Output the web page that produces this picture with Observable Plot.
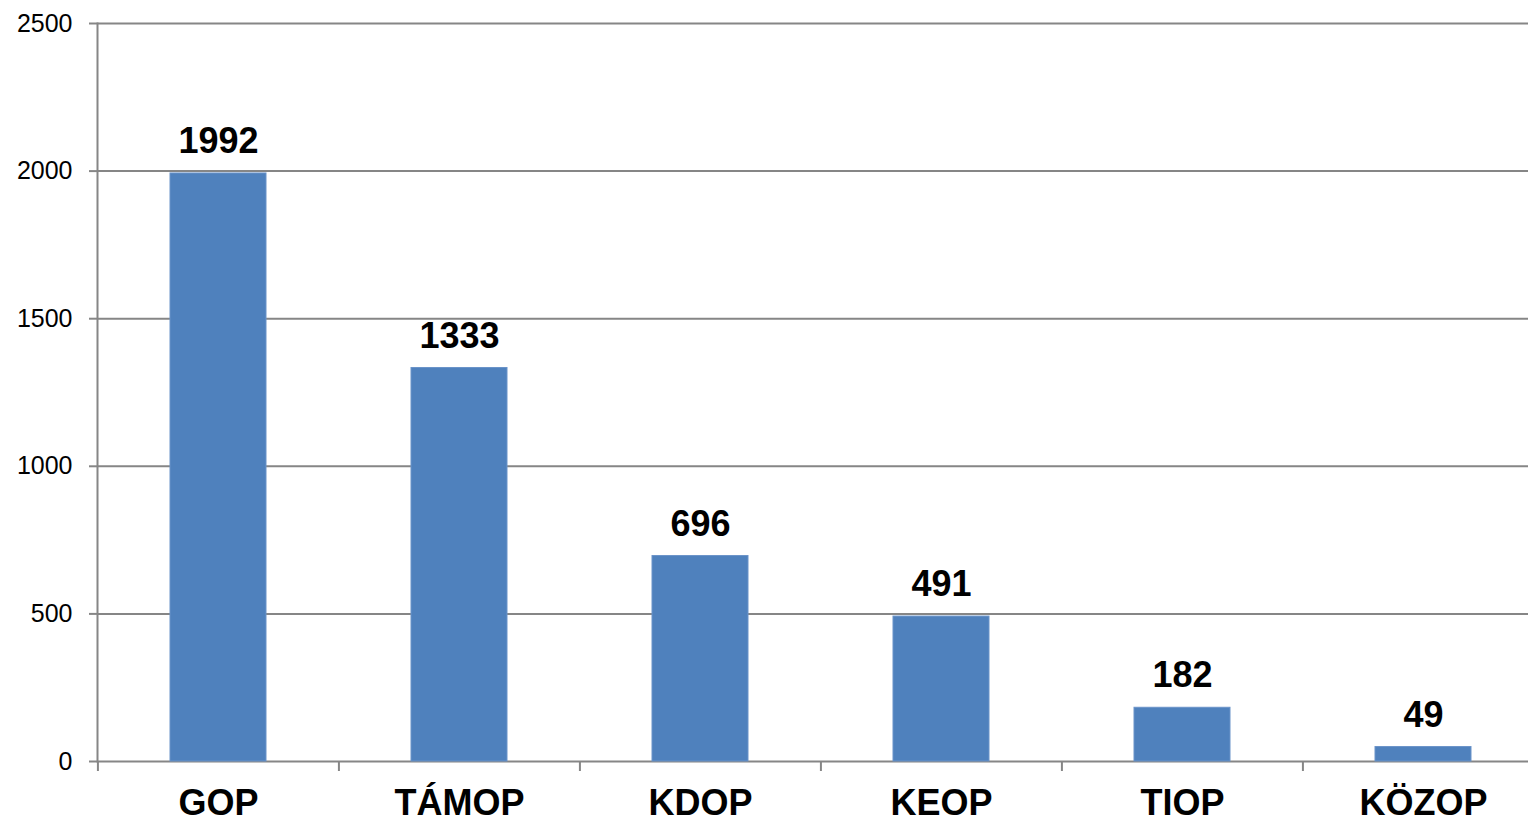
<!DOCTYPE html>
<html>
<head>
<meta charset="utf-8">
<script src="https://cdn.jsdelivr.net/npm/d3@7"></script>
<script src="https://cdn.jsdelivr.net/npm/@observablehq/plot@0.6"></script>
<style>
  html, body { margin: 0; padding: 0; overflow: hidden; background: #fff; }
  #chart svg { max-width: none !important; display: block; }
</style>
</head>
<body>
<div id="chart"></div>
<script>
const categories = ["GOP", "TÁMOP", "KDOP", "KEOP", "TIOP", "KÖZOP"];
const values = [1992, 1333, 696, 491, 182, 49];
const yTicks = [0, 500, 1000, 1500, 2000, 2500];

const data = categories.map((c, i) => ({category: c, value: values[i]}));

const W = 1544, H = 821;
const bandW = (W - 97) / categories.length;
const grid = "#868686";

const chart = Plot.plot({
  width: W,
  height: H,
  marginLeft: 97,
  marginRight: 0,
  marginTop: 23,
  marginBottom: 60,
  style: {fontFamily: "'Liberation Sans', Arial, sans-serif", color: "#000", maxWidth: "none", background: "#fff"},
  x: {domain: categories, paddingInner: 0.6, paddingOuter: 0.3, align: 0.5},
  y: {domain: [0, 2500]},
  marks: [
    Plot.gridY(yTicks, {stroke: grid, strokeOpacity: 1, strokeWidth: 2}),
    Plot.axisY(yTicks, {tickSize: 8, tickPadding: 17, tickFormat: "d", stroke: grid, strokeWidth: 2, fontSize: 25, label: null, fill: "#000"}),
    Plot.frame({anchor: "left", stroke: grid, strokeWidth: 2}),
    Plot.barY(data, {x: "category", y: "value", fill: "#4F81BD", stroke: "#6a93c9", strokeWidth: 1}),
    Plot.axisX({tickSize: 10, text: null, dx: -bandW / 2, stroke: grid, strokeWidth: 2, label: null}),
    Plot.axisX({tickSize: 0, tickPadding: 28, fontSize: 36, fontWeight: "bold", label: null, fill: "#000"}),
    Plot.text(data, {x: "category", y: "value", text: d => String(d.value), dy: -32, fontSize: 36, fontWeight: "bold", fill: "#000"})
  ]
});
document.getElementById("chart").appendChild(chart);
</script>
</body>
</html>
